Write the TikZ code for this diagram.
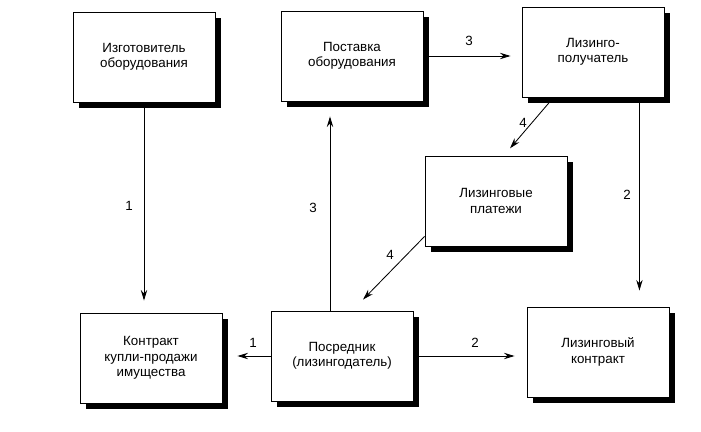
\documentclass[tikz,border=0pt]{standalone}
\usepackage{fontspec}
\setmainfont{Liberation Sans}
\usetikzlibrary{arrows.meta,shadows,positioning}

\begin{document}
\begin{tikzpicture}[x=0.025cm, y=-0.025cm,
  box/.style={draw, fill=white, line width=0.6pt, minimum width=3.55cm, minimum height=2.25cm,
    align=center, font=\fontsize{9.5}{11}\selectfont,
    drop shadow={shadow xshift=0.15cm, shadow yshift=-0.15cm, fill=black, opacity=1}},
  arr/.style={-{Stealth[length=7.5pt,width=4.5pt]}, line width=0.6pt},
  num/.style={font=\fontsize{9.5}{10}\selectfont, inner sep=1pt}]
\useasboundingbox (0,0) rectangle (701,432);
% blocks
\node[box] (izg) at (144,57) {Изготовитель\\оборудования};
\node[box] (post) at (352,56) {Поставка\\оборудования};
\node[box] (lpol) at (593,52) {Лизинго-\\получатель};
\node[box] (plat) at (496,201) {Лизинговые\\платежи};
\node[box] (kontr) at (151,358) {Контракт\\купли-продажи\\имущества};
\node[box] (posr) at (342,356) {Посредник\\(лизингодатель)};
\node[box] (lkont) at (598,352) {Лизинговый\\контракт};
% arrows
\draw[arr, shorten >=0.3cm] (izg.south) -- (izg.south |- kontr.north);
\draw[arr, shorten >=0.375cm] ([xshift=-0.3cm]posr.north) -- ([xshift=-0.3cm]posr.north |- post.south);
\draw[arr, shorten >=0.275cm] (post.east) -- (post.east -| lpol.west);
\draw[arr] ([xshift=0.8cm]lpol.south west) -- ([xshift=0.35cm,yshift=0.18cm]plat.north);
\draw[arr] ([yshift=0.25cm]plat.south west) -- ([xshift=0.525cm,yshift=0.275cm]posr.north);
\draw[arr, shorten >=0.4cm] ([xshift=-0.625cm]lpol.south east) -- ([xshift=-0.625cm]lpol.south east |- lkont.north);
\draw[arr, shorten >=0.375cm] (posr.west) -- (posr.west -| kontr.east);
\draw[arr, shorten >=0.3cm] (posr.east) -- (posr.east -| lkont.west);
% numbers
\node[num] (n1) at (129,206) {1};
\node[num] (n3) at (313,208) {3};
\node[num] (n3b) at (469,41) {3};
\node[num] (n4) at (523,123) {4};
\node[num] (n4b) at (390,255) {4};
\node[num] (n2) at (627,195) {2};
\node[num] (n1b) at (253,343) {1};
\node[num] (n2b) at (475,343) {2};
\end{tikzpicture}
\end{document}
